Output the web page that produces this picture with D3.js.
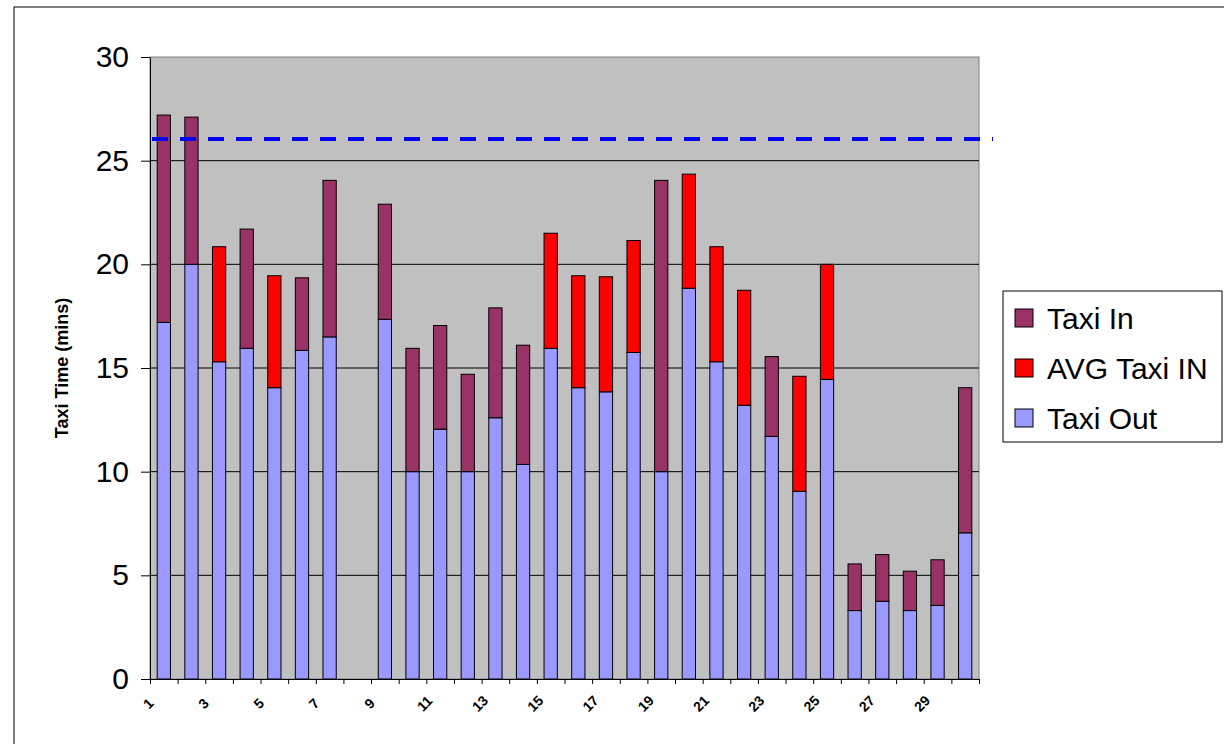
<!DOCTYPE html>
<html lang="en">

<head>
  <meta charset="utf-8" />
  <title>Taxi Time</title>
  <script src="https://d3js.org/d3.v7.min.js"></script>
  <style>
    body {
      margin: 0;
      background: white;
      font-family: "Liberation Sans", Arial, sans-serif;
    }

    .grid line {
      stroke: #000;
      stroke-width: 1px;
    }

    .bar {
      stroke: #000;
      stroke-width: 1px;
    }

    .y-axis text,
    .legend text {
      font-size: 30px;
      fill: #000;
    }

    .x-label {
      font-size: 14px;
      font-weight: bold;
      fill: #000;
    }
  </style>
</head>

<body>
  <svg width="1224" height="744"></svg>

  <script>
    // flight numbers along the x axis
    const categories = ["1", "2", "3", "4", "5", "6", "7", "8", "9", "10",
      "11", "12", "13", "14", "15", "16", "17", "18", "19", "20",
      "21", "22", "23", "24", "25", "26", "27", "28", "29", "30"];

    const taxiOut = [17.2, 20.0, 15.3, 15.95, 14.05, 15.85, 16.5, 0, 17.35, 10.0,
      12.05, 10.0, 12.6, 10.35, 15.95, 14.05, 13.85, 15.75, 10.0, 18.85,
      15.3, 13.2, 11.7, 9.05, 14.45, 3.3, 3.75, 3.3, 3.55, 7.05];

    const avgTaxiIn = [0, 0, 5.55, 0, 5.4, 0, 0, 0, 0, 0,
      0, 0, 0, 0, 5.55, 5.4, 5.55, 5.4, 0, 5.5,
      5.55, 5.55, 0, 5.55, 5.55, 0, 0, 0, 0, 0];

    const taxiIn = [10.0, 7.1, 0, 5.75, 0, 3.5, 7.55, 0, 5.55, 5.95,
      5.0, 4.7, 5.3, 5.75, 0, 0, 0, 0, 14.05, 0,
      0, 0, 3.85, 0, 0, 2.25, 2.25, 1.9, 2.2, 7.0];

    const yTicks = [0, 5, 10, 15, 20, 25, 30];
    const xTickLabels = ["1", "3", "5", "7", "9", "11", "13", "15", "17", "19",
      "21", "23", "25", "27", "29"];
    const targetLine = 26.05;

    const seriesNames = ["Taxi Out", "AVG Taxi IN", "Taxi In"];
    const colors = { "Taxi Out": "#9999ff", "AVG Taxi IN": "#ff0000", "Taxi In": "#993366" };
    const legendOrder = ["Taxi In", "AVG Taxi IN", "Taxi Out"];

    const svg = d3.select("svg");

    const plot = { left: 150, right: 979, top: 57, bottom: 679 };

    // outer chart frame (cropped on right / bottom)
    svg.append("rect")
      .attr("x", 14).attr("y", 7)
      .attr("width", 1400).attr("height", 900)
      .attr("fill", "white").attr("stroke", "#000");

    const x = d3.scaleBand()
      .domain(categories)
      .range([plot.left, plot.right])
      .paddingInner(0.52)
      .paddingOuter(0.26);

    const xb = d3.scaleLinear().domain([0, categories.length]).range([plot.left, plot.right]);

    const y = d3.scaleLinear().domain([0, 30]).range([plot.bottom, plot.top]);

    // plot background
    svg.append("rect")
      .attr("x", plot.left).attr("y", plot.top)
      .attr("width", plot.right - plot.left).attr("height", plot.bottom - plot.top)
      .attr("fill", "#c0c0c0").attr("stroke", "#808080");

    // gridlines
    svg.append("g")
      .attr("class", "grid")
      .selectAll("line")
      .data(yTicks.filter(t => t > 0 && t < 30))
      .join("line")
      .attr("x1", plot.left).attr("x2", plot.right)
      .attr("y1", d => y(d)).attr("y2", d => y(d));

    // stacked bars
    const table = categories.map((c, i) => ({
      cat: c,
      "Taxi Out": taxiOut[i],
      "AVG Taxi IN": avgTaxiIn[i],
      "Taxi In": taxiIn[i]
    }));

    const stacked = d3.stack().keys(seriesNames)(table);

    svg.append("g")
      .selectAll("g")
      .data(stacked)
      .join("g")
      .attr("fill", d => colors[d.key])
      .selectAll("rect")
      .data(d => d.filter(s => s[1] - s[0] > 0))
      .join("rect")
      .attr("class", "bar")
      .attr("x", d => x(d.data.cat))
      .attr("width", x.bandwidth())
      .attr("y", d => y(d[1]))
      .attr("height", d => y(d[0]) - y(d[1]));

    // dashed target line
    svg.append("line")
      .attr("x1", plot.left + 2).attr("x2", plot.right + 14)
      .attr("y1", y(targetLine)).attr("y2", y(targetLine))
      .attr("stroke", "#0000ff")
      .attr("stroke-width", 4)
      .attr("stroke-dasharray", "16,12");

    // y axis
    const yAxis = svg.append("g")
      .attr("class", "y-axis")
      .attr("transform", `translate(${plot.left},0)`)
      .call(d3.axisLeft(y).tickValues(yTicks).tickSize(9).tickSizeOuter(0).tickPadding(12));
    yAxis.selectAll("text").attr("font-family", null).attr("font-size", null);
    yAxis.select(".domain").attr("stroke", "#000");

    // x axis, ticks on category boundaries
    svg.append("g")
      .attr("transform", `translate(0,${plot.bottom})`)
      .call(d3.axisBottom(xb).tickValues(d3.range(0, categories.length + 1)).tickSize(5).tickSizeOuter(0).tickFormat(""));

    svg.append("g")
      .selectAll("text")
      .data(xTickLabels)
      .join("text")
      .attr("class", "x-label")
      .attr("text-anchor", "middle")
      .attr("transform", d => `translate(${x(d) + x.bandwidth() / 2 - 12},${plot.bottom + 28}) rotate(-45)`)
      .text(d => d);

    // y title
    svg.append("text")
      .attr("transform", `translate(68,${(plot.top + plot.bottom) / 2}) rotate(-90)`)
      .attr("text-anchor", "middle")
      .attr("font-size", 18)
      .attr("font-weight", "bold")
      .text("Taxi Time (mins)");

    // legend
    const legend = svg.append("g").attr("class", "legend");
    legend.append("rect")
      .attr("x", 1003).attr("y", 291)
      .attr("width", 219).attr("height", 151)
      .attr("fill", "white").attr("stroke", "#000");

    const item = legend.selectAll("g")
      .data(legendOrder)
      .join("g")
      .attr("transform", (d, i) => `translate(1015,${309 + i * 50})`);

    item.append("rect")
      .attr("width", 18).attr("height", 18)
      .attr("fill", d => colors[d])
      .attr("stroke", "#000");

    item.append("text")
      .attr("x", 32).attr("y", 20)
      .text(d => d);
  </script>
</body>

</html>
